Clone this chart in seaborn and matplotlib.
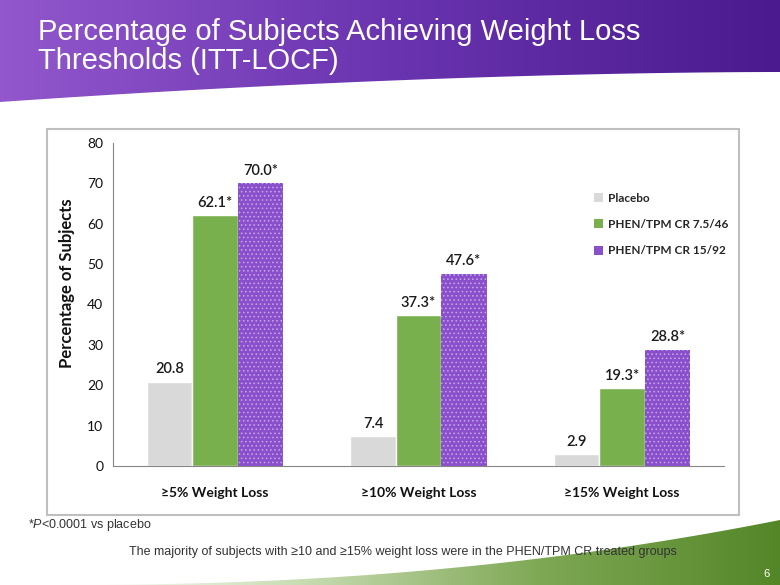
import numpy as np
import pandas as pd
import seaborn as sns
import matplotlib.pyplot as plt
from matplotlib.patches import Rectangle, Polygon, Patch
from matplotlib.colors import LinearSegmentedColormap

# data
categories = ['≥5% Weight Loss', '≥10% Weight Loss', '≥15% Weight Loss']
groups = ['Placebo', 'PHEN/TPM CR 7.5/46', 'PHEN/TPM CR 15/92']
placebo = [20.8, 7.4, 2.9]
mid_dose = [62.1, 37.3, 19.3]
top_dose = [70.0, 47.6, 28.8]
value_labels = [['20.8', '7.4', '2.9'],
                ['62.1*', '37.3*', '19.3*'],
                ['70.0*', '47.6*', '28.8*']]
colors = ['#D9D9D9', '#79B04E', '#8A4FCB']

df = pd.DataFrame({
    'Threshold': categories * 3,
    'Group': [g for g in groups for _ in categories],
    'Value': placebo + mid_dose + top_dose,
})

sns.set_style('white')
plt.rcParams['font.family'] = ['Lato', 'DejaVu Sans']
plt.rcParams['mathtext.fontset'] = 'custom'
plt.rcParams['mathtext.rm'] = 'Liberation Sans'
plt.rcParams['mathtext.it'] = 'Liberation Sans:italic'
plt.rcParams['hatch.linewidth'] = 0.6

fig = plt.figure(figsize=(7.8, 5.85), dpi=100)
fig.patch.set_facecolor('white')

# slide background: banner, footer, chart frame (pixel coordinates)
bg = fig.add_axes([0, 0, 1, 1], zorder=0)
bg.set_xlim(0, 780)
bg.set_ylim(585, 0)
bg.axis('off')

xs = np.linspace(780, 0, 60)
ys = 72 + 30 * (1 - xs / 780) ** 1.8
banner = Polygon([(0, 0), (780, 0)] + list(zip(xs, ys)), closed=True,
                 facecolor='none', edgecolor='none')
bg.add_patch(banner)
cmap_p = LinearSegmentedColormap.from_list('p', ['#9257CC', '#6A34B0', '#4A1A8E'])
im = bg.imshow(np.linspace(0, 1, 256)[None, :], cmap=cmap_p, aspect='auto',
               extent=[0, 780, 105, 0], zorder=1)
im.set_clip_path(banner)

fx = np.linspace(60, 780, 60)
fy = 585 - 65 * ((fx - 60) / 720) ** 2.2
footer = Polygon(list(zip(fx, fy)) + [(780, 585), (60, 585)], closed=True,
                 facecolor='none', edgecolor='none')
bg.add_patch(footer)
cmap_g = LinearSegmentedColormap.from_list('g', ['#FFFFFF', '#C9DCB4', '#7FA855', '#548628'])
im2 = bg.imshow(np.linspace(0, 1, 256)[None, :], cmap=cmap_g, aspect='auto',
                extent=[60, 780, 585, 515], zorder=1)
im2.set_clip_path(footer)

bg.add_patch(Rectangle((47, 129), 692, 386, facecolor='white',
                       edgecolor='#BFBFBF', lw=1.5, zorder=2))

bg.text(38, 40, 'Percentage of Subjects Achieving Weight Loss', color='white',
        fontsize=21, family='Liberation Sans', va='baseline', zorder=3)
bg.text(38, 69, 'Thresholds (ITT-LOCF)', color='white',
        fontsize=21, family='Liberation Sans', va='baseline', zorder=3)
bg.text(28, 528, r'*$\it{P}$<0.0001 vs placebo', color='#333333', fontsize=9,
        family='Liberation Sans', va='baseline', zorder=3)
bg.text(403, 555, 'The majority of subjects with ≥10 and ≥15% weight loss were in the PHEN/TPM CR treated groups',
        color='#333333', fontsize=9, family='Liberation Sans', ha='center', va='baseline', zorder=3)
bg.text(766, 577, '6', color='white', fontsize=8, family='Liberation Sans',
        ha='center', va='baseline', zorder=3)

# chart
ax = fig.add_axes([113 / 780, 1 - 466 / 585, 611 / 780, 323 / 585], zorder=1)
ax.patch.set_alpha(0)
sns.barplot(data=df, x='Threshold', y='Value', hue='Group', palette=colors,
            width=0.67, legend=False, ax=ax, saturation=1)

for container, labs in zip(ax.containers, value_labels):
    ax.bar_label(container, labels=labs, padding=4, fontsize=10.5,
                 fontweight='semibold', color='#1A1A1A')
for bar in ax.containers[2]:
    bar.set_edgecolor('#C6AAEB')
    bar.set_linewidth(0)
    bar.set_hatch('....')

ax.set_ylim(0, 80)
ax.set_xlim(-0.5, 2.5)
ax.set_yticks(range(0, 81, 10))
ax.set_xlabel('')
ax.set_ylabel('Percentage of Subjects', fontsize=12, fontweight='bold', color='#111111')
ax.yaxis.set_label_coords(-0.062, 0.567)
sns.despine(ax=ax)
for s in ['left', 'bottom']:
    ax.spines[s].set_color('#868686')
ax.tick_params(axis='y', which='major', direction='out', length=4, color='#868686',
               labelsize=10, pad=3, labelcolor='#111111')
ax.tick_params(axis='x', which='major', length=0, labelsize=10, pad=15, labelcolor='#111111')
for t in ax.get_xticklabels():
    t.set_fontweight('bold')
ax.set_xticks([0.5, 1.5, 2.5], minor=True)
ax.tick_params(axis='x', which='minor', direction='out', length=5, color='#868686')

handles = [Patch(facecolor=c, edgecolor='none') for c in colors]
ax.legend(handles, groups, loc='upper left', bbox_to_anchor=(583 / 780, 1 - 182 / 585),
          bbox_transform=fig.transFigure, frameon=False,
          prop={'weight': 'bold', 'size': 8.5}, handlelength=0.8, handleheight=0.8,
          handletextpad=0.4, labelspacing=1.3)

fig.savefig('out.png', dpi=100)
